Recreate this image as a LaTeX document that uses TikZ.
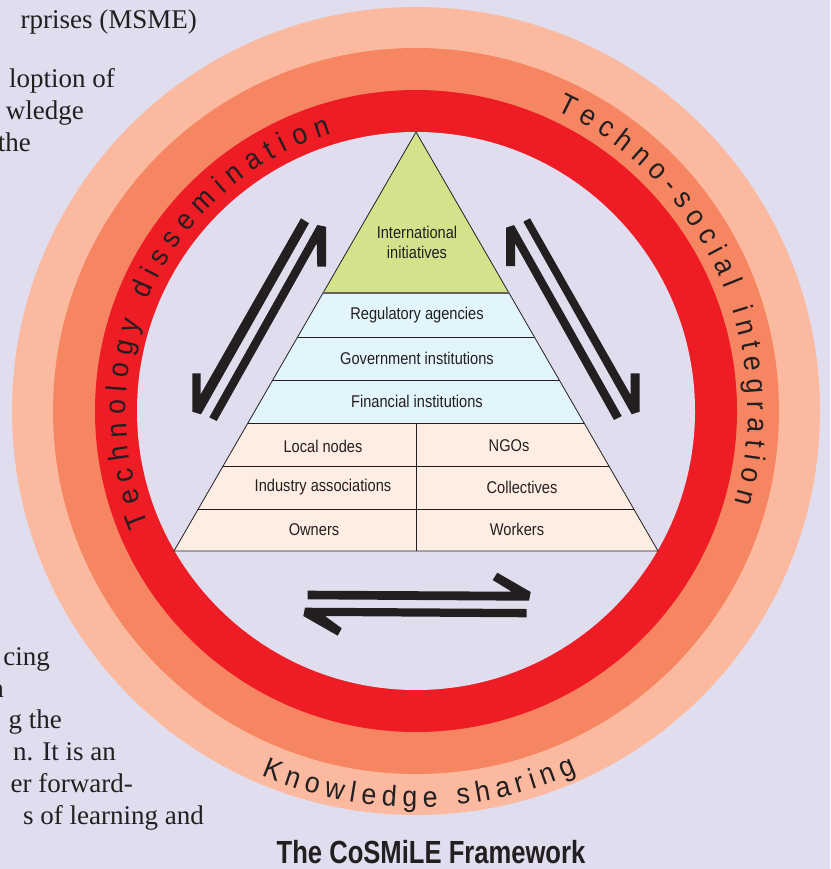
\documentclass[tikz,border=0pt]{standalone}
\usepackage{fontspec}
\setmainfont{Liberation Serif}
\newfontfamily\labelfont[FakeStretch=0.86]{Liberation Sans}
\newfontfamily\ringfont[FakeStretch=0.92]{Liberation Sans}
\newfontfamily\titlefont[FakeStretch=0.8]{Liberation Sans}
\usetikzlibrary{decorations.text}
\definecolor{bgc}{HTML}{E0DDEE}
\definecolor{ringa}{HTML}{FBB9A0}
\definecolor{ringb}{HTML}{F68662}
\definecolor{ringc}{HTML}{EE1C25}
\definecolor{topc}{HTML}{D4E28C}
\definecolor{midc}{HTML}{E2F4FC}
\definecolor{lowc}{HTML}{FEEDE3}
\definecolor{ink}{HTML}{231F20}
\tikzset{
  lab/.style={font=\labelfont\fontsize{17}{20}\selectfont,text=ink,inner sep=0pt,anchor=center},
  body/.style={font=\fontsize{27}{32}\selectfont,text=ink,inner sep=0pt,anchor=base east},
  band/.style={draw=ink,line width=0.8pt},
  arrowshape/.style={fill=ink,draw=none},
}
\begin{document}
\begin{tikzpicture}[x=1pt,y=-1pt]
\useasboundingbox (0,0) rectangle (830,869);
\clip (0,0) rectangle (830,869);
\fill[bgc] (0,0) rectangle (830,869);
\coordinate (c) at (416,411);
% rings
\fill[ringa] (c) circle[radius=404pt];
\fill[ringb] (c) circle[radius=363pt];
\fill[ringc] (c) circle[radius=321pt];
\fill[bgc] (c) circle[radius=279pt];
% pyramid
\fill[topc] (416,132) -- (509,293) -- (323,293) -- cycle;
\fill[midc] (323,293) -- (509,293) -- (584,423) -- (248,423) -- cycle;
\fill[lowc] (248,423) -- (584,423) -- (658,551) -- (174,551) -- cycle;
\draw[band] (416,132) -- (658,551) -- (174,551) -- cycle;
\draw[draw=ink!70,line width=1.2pt] (323,293) -- (509,293);
\draw[band] (297.6,337) -- (534.4,337);
\draw[band] (272.8,380) -- (559.2,380);
\draw[band] (248,423) -- (584,423);
\draw[band] (223.1,466) -- (608.9,466);
\draw[band] (198.2,509) -- (633.8,509);
\draw[band] (416,423) -- (416,551);
\node[lab,align=center] (n1) at (417,242) {International\\initiatives};
\node[lab] (n2) at (417,315.5) {Regulatory agencies};
\node[lab] (n3) at (417,358.5) {Government institutions};
\node[lab] (n4) at (417,401) {Financial institutions};
\node[lab] (n5) at (323,446) {Local nodes};
\node[lab] (n6) at (509,446) {NGOs};
\node[lab] (n7) at (323,487) {Industry associations};
\node[lab] (n8) at (522,487) {Collectives};
\node[lab] (n9) at (314,529.5) {Owners};
\node[lab] (n10) at (517,529.5) {Workers};
% arrows
\fill[arrowshape] (301,218.3) -- (309,223.3) -- (201,414.3) -- (192.3,411.7) -- (192.3,373.3) -- (200.7,373.3) -- (200.7,394.3) -- cycle;
\fill[arrowshape] (209.3,417.3) -- (216.7,421) -- (316.7,243.3) -- (317.3,266.7) -- (326,266.7) -- (326,226.7) -- (317.3,225) -- cycle;
\fill[arrowshape] (506,227.7) -- (514,225) -- (621.7,416) -- (614,420) -- (515,243.3) -- (515,266) -- (506,266) -- cycle;
\fill[arrowshape] (523.3,221.7) -- (530,218.3) -- (630.7,395) -- (630.7,373.3) -- (639.7,373.3) -- (639.7,411.7) -- (631.7,414.3) -- cycle;
\fill[arrowshape] (307.7,590.7) -- (511.7,591.7) -- (492.7,580) -- (497.3,572.7) -- (530.7,592) -- (529,600.7) -- (307.7,599.3) -- cycle;
\fill[arrowshape] (305,607.7) -- (526.7,609) -- (526.7,617.3) -- (325,616) -- (341.7,628.3) -- (337.7,635.7) -- (303.3,616) -- cycle;
% ring text
\begin{scope}[shift={(416,411)},y=1pt]
\path[decorate,decoration={text along path,text align={fit to path},
  text={|\ringfont\fontsize{29}{30}\selectfont\color{ink}|Technology dissemination}}]
  (203:290pt) arc[start angle=203,end angle=107,radius=290pt];
\path[decorate,decoration={text along path,text align={fit to path},
  text={|\ringfont\fontsize{29}{30}\selectfont\color{ink}|Techno-social integration}}]
  (65:332pt) arc[start angle=65,end angle=-16,radius=332pt];
\path[decorate,decoration={text along path,text align={fit to path},
  text={|\ringfont\fontsize{29}{30}\selectfont\color{ink}|Knowledge sharing}}]
  (247:396pt) arc[start angle=247,end angle=294,radius=396pt];
\end{scope}
% body text
\node[body] (t1) at (197,29) {rprises (MSME)};
\node[body] (t2) at (115,88) {loption of};
\node[body] (t3) at (84,120) {wledge};
\node[body] (t4) at (31,152) {the};
\node[body] (t5) at (50,665) {cing};
\node[body] (t6) at (4,697) {n};
\node[body] (t7) at (62,728) {g the};
\node[body] (t8) at (116,760) {n. It is an};
\node[body] (t9) at (133,792) {er forward-};
\node[body] (t10) at (204,824) {s of learning and};
\node[font=\titlefont\bfseries\fontsize{32}{34}\selectfont,text=ink,inner sep=0pt] (title) at (431,852) {The CoSMiLE Framework};
\end{tikzpicture}
\end{document}
